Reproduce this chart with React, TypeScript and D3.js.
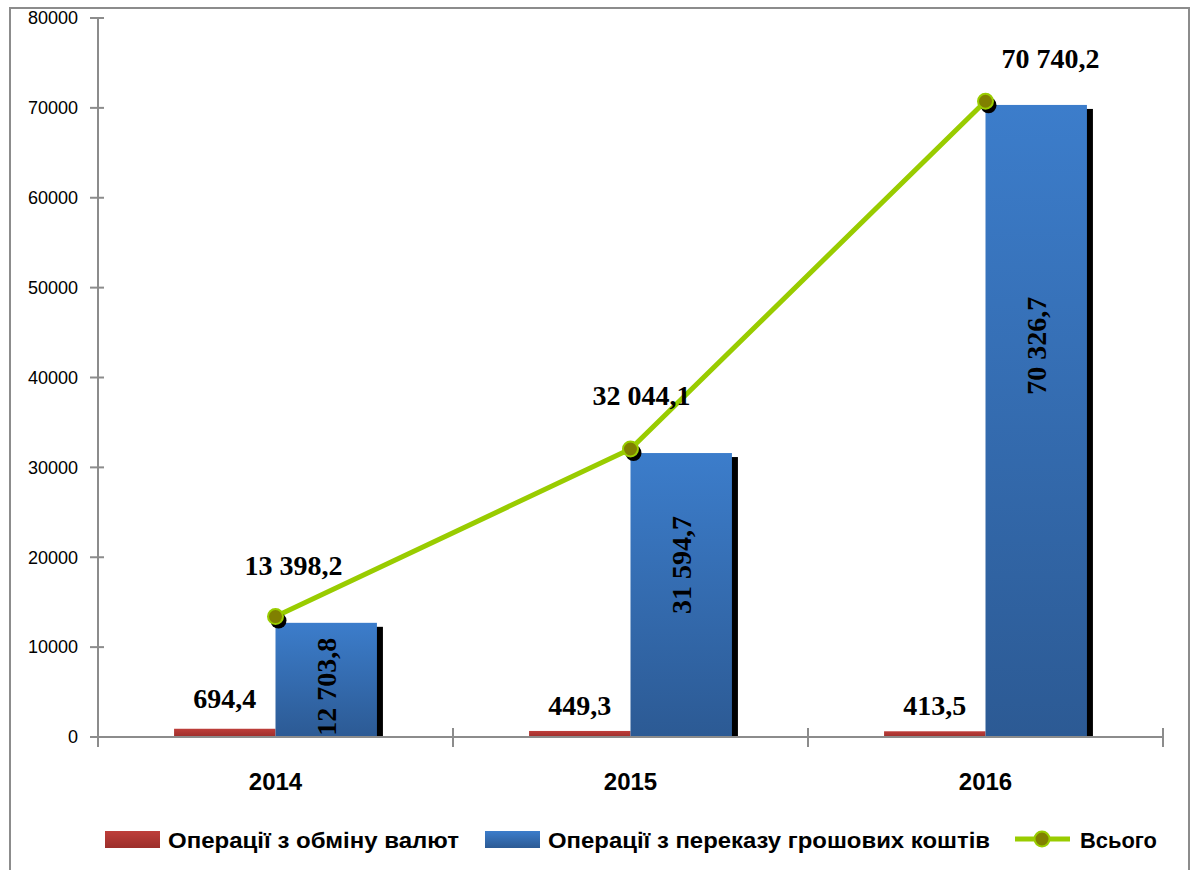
import React from "react";
import * as d3 from "d3";

const years = ["2014", "2015", "2016"];
const exchange = [694.4, 449.3, 413.5];
const transfer = [12703.8, 31594.7, 70326.7];
const total = [13398.2, 32044.1, 70740.2];
const exchangeLabels = ["694,4", "449,3", "413,5"];
const transferLabels = ["12 703,8", "31 594,7", "70 326,7"];
const totalLabels = ["13 398,2", "32 044,1", "70 740,2"];
const yTicks = [0, 10000, 20000, 30000, 40000, 50000, 60000, 70000, 80000];
const legendNames = ["Операції з обміну валют", "Операції з переказу грошових коштів", "Всього"];

// label placement tweaks (fractions / offsets, not data)
const transferLabelFrac = [0.44, 0.606, 0.619];
const totalLabelOffset = [[18, -42], [11, -44], [65, -33]];
const exchangeLabelOffset = [-23, -18, -18];

const W = 1194;
const H = 870;
const plot = { left: 98, right: 1163, top: 18, bottom: 737 };

const GREEN = "#99CC00";
const OLIVE = "#808000";

export default function App() {
  const x = d3.scaleBand<string>().domain(years).range([plot.left, plot.right]).padding(0);
  const y = d3.scaleLinear().domain([0, 80000]).range([plot.bottom, plot.top]);
  const bw = x.bandwidth() / 3.5;
  const gap = (x.bandwidth() * 0.75) / 3.5;
  const redX = (i: number) => (x(years[i]) as number) + gap;
  const blueX = (i: number) => redX(i) + bw;
  const cx = (i: number) => (x(years[i]) as number) + x.bandwidth() / 2;

  const line = d3
    .line<number>()
    .x((_, i) => cx(i))
    .y((d) => y(d));

  const boundaries = [...years.map((yr) => x(yr) as number), plot.right];

  return (
    <svg width={W} height={H} style={{ display: "block", position: "absolute", left: 0, top: 0 }}>
      <defs>
        <linearGradient id="blueGrad" x1="0" y1="0" x2="0" y2="1">
          <stop offset="0" stopColor="#3C7DCB" />
          <stop offset="1" stopColor="#2C5A94" />
        </linearGradient>
        <linearGradient id="redGrad" x1="0" y1="0" x2="0" y2="1">
          <stop offset="0" stopColor="#BE3E3A" />
          <stop offset="1" stopColor="#9C2E2B" />
        </linearGradient>
      </defs>
      <rect x={0} y={0} width={W} height={H} fill="#fff" />
      {/* outer border */}
      <rect x={10} y={8} width={1179} height={H} fill="none" stroke="#8c8c8c" strokeWidth={2} />

      {/* y axis */}
      <line x1={plot.left} x2={plot.left} y1={plot.top} y2={plot.bottom + 10} stroke="#8c8c8c" strokeWidth={2} />
      {yTicks.map((t) => (
        <g key={t}>
          <line x1={plot.left - 8} x2={plot.left + 6} y1={y(t)} y2={y(t)} stroke="#8c8c8c" strokeWidth={2} />
          <text
            x={78}
            y={y(t)}
            dy="0.35em"
            textAnchor="end"
            fontFamily="Liberation Sans, Arial, sans-serif"
            fontSize={18}
            fill="#000"
          >
            {t}
          </text>
        </g>
      ))}

      {/* bars */}
      {years.map((yr, i) => (
        <g key={yr}>
          <rect
            x={blueX(i) + 6}
            y={y(transfer[i]) + 4}
            width={bw}
            height={plot.bottom - y(transfer[i]) - 4}
            fill="#000"
          />
          <rect
            x={redX(i)}
            y={y(exchange[i]) - 2}
            width={bw}
            height={plot.bottom - y(exchange[i]) + 2}
            fill="url(#redGrad)"
          />
          <rect x={blueX(i)} y={y(transfer[i])} width={bw} height={plot.bottom - y(transfer[i])} fill="url(#blueGrad)" />
        </g>
      ))}

      {/* x axis */}
      <line x1={plot.left} x2={plot.right} y1={plot.bottom} y2={plot.bottom} stroke="#8c8c8c" strokeWidth={2} />
      {boundaries.map((b, i) => (
        <line key={i} x1={b} x2={b} y1={plot.bottom - 9} y2={plot.bottom + 10} stroke="#8c8c8c" strokeWidth={2} />
      ))}
      {years.map((yr, i) => (
        <text
          key={yr}
          x={cx(i)}
          y={790}
          textAnchor="middle"
          fontFamily="Liberation Sans, Arial, sans-serif"
          fontWeight="bold"
          fontSize={24}
          fill="#000"
        >
          {yr}
        </text>
      ))}

      {/* bar labels */}
      {years.map((yr, i) => (
        <g key={"lbl" + yr} fontFamily="Liberation Serif, Times New Roman, serif" fontWeight="bold" fontSize={28} fill="#000">
          <text x={redX(i) + bw / 2} y={y(exchange[i]) + exchangeLabelOffset[i]} textAnchor="middle">
            {exchangeLabels[i]}
          </text>
          <text
            transform={`translate(${blueX(i) + bw / 2},${y(transfer[i] * transferLabelFrac[i])}) rotate(-90)`}
            textAnchor="middle"
            dy="0.35em"
          >
            {transferLabels[i]}
          </text>
        </g>
      ))}

      {/* total line */}
      <path d={line(total) || ""} fill="none" stroke={GREEN} strokeWidth={5} strokeLinejoin="round" />
      {total.map((v, i) => (
        <g key={"m" + i}>
          <circle cx={cx(i) + 3} cy={y(v) + 4} r={8} fill="#000" />
          <circle cx={cx(i)} cy={y(v)} r={7.5} fill={OLIVE} stroke={GREEN} strokeWidth={2} />
          <text
            x={cx(i) + totalLabelOffset[i][0]}
            y={y(v) + totalLabelOffset[i][1]}
            textAnchor="middle"
            fontFamily="Liberation Serif, Times New Roman, serif"
            fontWeight="bold"
            fontSize={28}
            fill="#000"
          >
            {totalLabels[i]}
          </text>
        </g>
      ))}

      {/* legend */}
      <g fontFamily="Liberation Sans, Arial, sans-serif" fontWeight="bold" fontSize={22} fill="#000">
        <rect x={105} y={831} width={55} height={17} fill="url(#redGrad)" />
        <text x={168} y={840} dy="0.35em" textLength={291} lengthAdjust="spacingAndGlyphs">
          {legendNames[0]}
        </text>
        <rect x={485} y={831} width={55} height={17} fill="url(#blueGrad)" />
        <text x={548} y={840} dy="0.35em" textLength={442} lengthAdjust="spacingAndGlyphs">
          {legendNames[1]}
        </text>
        <line x1={1015} x2={1070} y1={839} y2={839} stroke={GREEN} strokeWidth={5} />
        <circle cx={1042} cy={839} r={7.5} fill={OLIVE} stroke={GREEN} strokeWidth={2} />
        <text x={1080} y={840} dy="0.35em" textLength={77} lengthAdjust="spacingAndGlyphs">
          {legendNames[2]}
        </text>
      </g>
    </svg>
  );
}
